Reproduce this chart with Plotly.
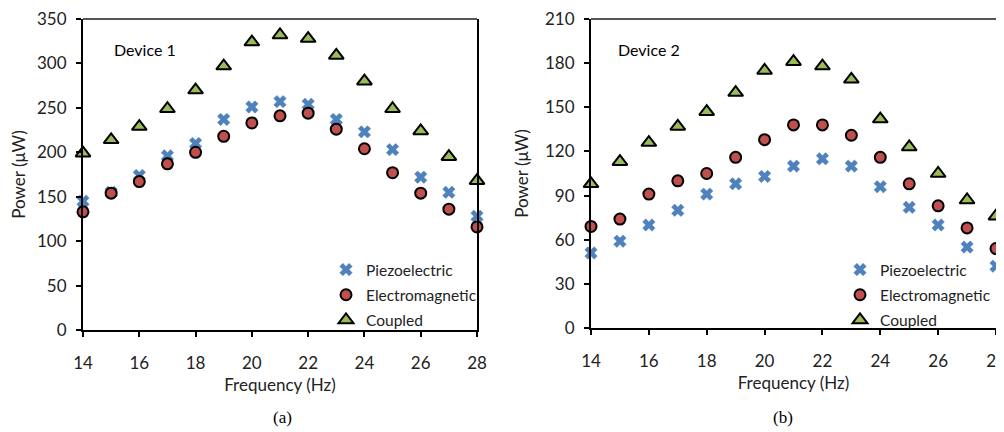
import plotly.graph_objects as go

freq = list(range(14, 29))

# Device 1 (a)
d1_piezo = [145, 155, 174, 196, 210, 237, 251, 257, 254, 237, 223, 203, 172, 155, 128]
d1_em = [133, 154, 167, 187, 200, 218, 233, 241, 244, 226, 204, 177, 154, 136, 116]
d1_coupled = [199, 214, 229, 249, 270, 297, 324, 332, 328, 309, 280, 249, 224, 195, 168]

# Device 2 (b)
d2_piezo = [51, 59, 70, 80, 91, 98, 103, 110, 115, 110, 96, 82, 70, 55, 42]
d2_em = [69, 74, 91, 100, 105, 116, 128, 138, 138, 131, 116, 98, 83, 68, 54]
d2_coupled = [98, 113, 126, 137, 147, 160, 175, 181, 178, 169, 142, 123, 105, 87, 76]

series_names = ["Piezoelectric", "Electromagnetic", "Coupled"]
x_ticks = [14, 16, 18, 20, 22, 24, 26, 28]
y1_ticks = [0, 50, 100, 150, 200, 250, 300, 350]
y2_ticks = [0, 30, 60, 90, 120, 150, 180, 210]

FONT = "Lato, Calibri, 'Open Sans', sans-serif"
W, H = 1004, 432
OFF = 8  # page body margin


def px(x):
    return (x - OFF) / W


def py(y):
    return 1 - (y - OFF) / H


styles = [
    dict(symbol="x", size=11, color="#4f81bd", line=dict(width=0.5, color="#4f81bd")),
    dict(symbol="circle", size=11, color="#c0504d", line=dict(width=2, color="black")),
    dict(symbol="triangle-up", size=13, color="#9bbb59", line=dict(width=2, color="black")),
]

fig = go.Figure()

for ys, leg, xa, ya in [
    ([d1_piezo, d1_em, d1_coupled], "legend", "x", "y"),
    ([d2_piezo, d2_em, d2_coupled], "legend2", "x2", "y2"),
]:
    for name, vals, st in zip(series_names, ys, styles):
        fig.add_trace(go.Scatter(
            x=freq, y=vals, mode="markers", name=name, marker=st,
            xaxis=xa, yaxis=ya, legend=leg, legendgroup=leg + name,
            cliponaxis=False,
        ))

axis_common = dict(
    showgrid=False, zeroline=False, showline=True, linecolor="black", linewidth=2,
    ticks="outside", ticklen=5, tickwidth=1.5, tickcolor="black", automargin=False,
    ticklabeloverflow="allow",
    tickfont=dict(family=FONT, size=17, color="#222"),
)
title_font = dict(family=FONT, size=17, color="#222")

fig.update_layout(
    template="none",
    width=W, height=H,
    margin=dict(l=0, r=0, t=0, b=0),
    plot_bgcolor="white", paper_bgcolor="white",
    font=dict(family=FONT, size=14, color="#222"),
    xaxis=dict(domain=[px(83), px(477)], range=[14, 28], tickvals=x_ticks, anchor="y",
               ticklabelstandoff=12,
               title=dict(text="Frequency (Hz)", font=title_font, standoff=7),
               **axis_common),
    yaxis=dict(domain=[py(330), py(19)], range=[0, 350], tickvals=y1_ticks, anchor="x",
               mirror=True, ticklabelstandoff=6,
               title=dict(text="Power (μW)", font=title_font, standoff=12),
               **axis_common),
    xaxis2=dict(domain=[px(591), px(996)], range=[14, 28], tickvals=x_ticks, anchor="y2",
                ticklabelstandoff=12,
                title=dict(text="Frequency (Hz)", font=title_font, standoff=7),
                **axis_common),
    yaxis2=dict(domain=[py(328), py(19)], range=[0, 210], tickvals=y2_ticks, anchor="x2",
                mirror=True, ticklabelstandoff=6,
                title=dict(text="Power (μW)", font=title_font, standoff=12),
                **axis_common),
    legend=dict(x=px(326), y=py(253), xanchor="left", yanchor="top", bgcolor="rgba(0,0,0,0)",
                font=dict(family=FONT, size=15.5, color="#222"), itemwidth=30, tracegroupgap=2),
    legend2=dict(x=px(840), y=py(253), xanchor="left", yanchor="top", bgcolor="rgba(0,0,0,0)",
                 font=dict(family=FONT, size=15.5, color="#222"), itemwidth=30, tracegroupgap=2),
    annotations=[
        dict(text="Device 1", xref="paper", yref="paper", x=px(112), y=py(50),
             xanchor="left", yanchor="middle", showarrow=False, font=dict(family=FONT, size=16, color="black")),
        dict(text="Device 2", xref="paper", yref="paper", x=px(616), y=py(50),
             xanchor="left", yanchor="middle", showarrow=False, font=dict(family=FONT, size=16, color="black")),
        dict(text="(a)", xref="paper", yref="paper", x=px(282), y=py(417),
             xanchor="center", yanchor="middle", showarrow=False,
             font=dict(family="Liberation Serif, Times New Roman, serif", size=17, color="black")),
        dict(text="(b)", xref="paper", yref="paper", x=px(783), y=py(417),
             xanchor="center", yanchor="middle", showarrow=False,
             font=dict(family="Liberation Serif, Times New Roman, serif", size=17, color="black")),
    ],
    shapes=[
        dict(type="line", xref="x domain", yref="y domain", x0=0, x1=1, y0=1, y1=1,
             line=dict(color="#555", width=2)),
        dict(type="line", xref="x2 domain", yref="y2 domain", x0=0, x1=1, y0=1, y1=1,
             line=dict(color="#555", width=2)),
    ],
)

fig.write_html("out.html")
